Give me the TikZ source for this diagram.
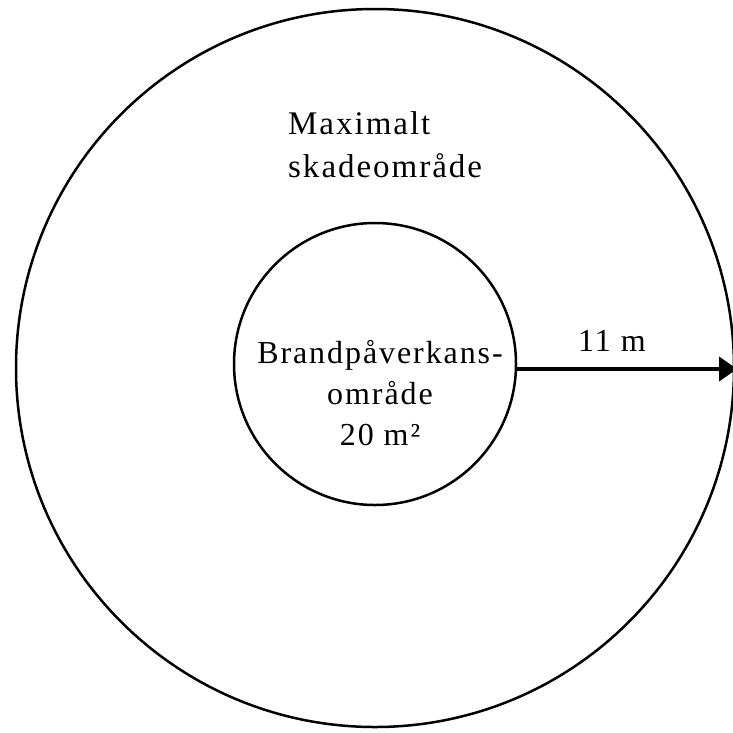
\documentclass[tikz,border=0pt]{standalone}
\usepackage{fontspec}
\setmainfont{Liberation Serif}[LetterSpace=6]
\usetikzlibrary{arrows.meta}
\begin{document}
\begin{tikzpicture}[x=1pt,y=-1pt,
  ring/.style={circle,draw,line width=2.5pt,inner sep=0pt,outer sep=0pt},
  lab/.style={inner sep=0pt,font=\fontsize{32}{41}\selectfont}]
\useasboundingbox (0,0) rectangle (733,732);
\node[ring,minimum size=718pt] (outer) at (375,368) {};
\node[ring,minimum size=282pt] (inner) at (375,364) {};
\node[lab,align=left,anchor=north west,font=\fontsize{33}{43}\selectfont] (maxt) at (288,111) {Maximalt\\skadeområde};
\node[lab,align=center,anchor=north] (brand) at (380,340) {Brandpåverkans-\\område\\20 m²};
\coordinate (tipend) at (737,369);
\draw[line width=4pt,-{Triangle[length=18pt,width=24pt]}] (inner.east |- tipend) -- (tipend);
\node[lab,anchor=base] (dist) at (612,351) {11 m};
\end{tikzpicture}
\end{document}
